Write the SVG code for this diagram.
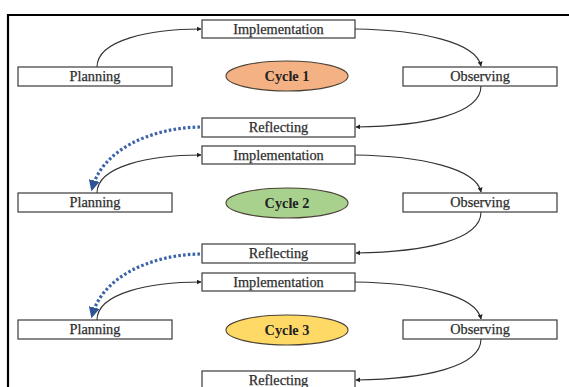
<svg xmlns="http://www.w3.org/2000/svg" width="569" height="387" viewBox="0 0 569 387">
<style>
.box{fill:#fff;stroke:#3a3a3a;stroke-width:1.2}
.lbl{font-family:"Liberation Serif","Times New Roman",serif;font-size:14.3px;fill:#2e2e2e;stroke:#2e2e2e;stroke-width:0.25;text-anchor:middle}
.cyc{font-family:"Liberation Serif","Times New Roman",serif;font-size:14.3px;font-weight:bold;fill:#222;text-anchor:middle}
.ell{stroke:#4a4034;stroke-width:1.1}
.arc{fill:none;stroke:#333;stroke-width:1.1}
.dot{fill:none;stroke:#3c64a8;stroke-width:3.2;stroke-dasharray:2.6 2.2}
</style>
<defs>
<marker id="ah" viewBox="0 0 8 8" refX="7" refY="4" markerWidth="5" markerHeight="5" orient="auto" markerUnits="userSpaceOnUse"><path d="M0,0 L8,4 L0,8 z" fill="#222"/></marker>
<marker id="bh" viewBox="0 0 10 10" refX="8" refY="5" markerWidth="11" markerHeight="11" orient="auto" markerUnits="userSpaceOnUse"><path d="M0,0 L10,5 L0,10 z" fill="#2f5597"/></marker>
</defs>
<g id="frame">
<line x1="7" y1="15" x2="569" y2="15" stroke="#000" stroke-width="2.2"/>
<line x1="8" y1="14" x2="8" y2="387" stroke="#000" stroke-width="2.2"/>
</g>
<g id="connectors">
<path class="arc" d="M97,67 C97,40 150,29 201,29" marker-end="url(#ah)"/>
<path class="arc" d="M355,29 C420,30 476,42 481,66" marker-end="url(#ah)"/>
<path class="arc" d="M481,86 C481,114 425,126 356,127" marker-end="url(#ah)"/>
<path class="dot" d="M200,127 C150,128 102,150 92,189" marker-end="url(#bh)"/>
<path class="arc" d="M97,193 C97,166 150,155 201,155" marker-end="url(#ah)"/>
<path class="arc" d="M355,155 C420,156 476,168 481,192" marker-end="url(#ah)"/>
<path class="arc" d="M481,212 C481,240 425,252 356,253" marker-end="url(#ah)"/>
<path class="dot" d="M200,254 C150,255 102,277 92,316" marker-end="url(#bh)"/>
<path class="arc" d="M97,320 C97,293 150,282 201,282" marker-end="url(#ah)"/>
<path class="arc" d="M355,282 C420,283 476,295 481,319" marker-end="url(#ah)"/>
<path class="arc" d="M481,339 C481,367 425,379 356,380" marker-end="url(#ah)"/>
</g>
<g id="c1-implementation"><rect class="box" x="202" y="20" width="153" height="18"/><text class="lbl" x="278.5" y="33.8">Implementation</text></g>
<g id="c1-planning"><rect class="box" x="18" y="67" width="154" height="19"/><text class="lbl" x="95" y="81.3">Planning</text></g>
<g id="c1-cycle"><ellipse class="ell" cx="287" cy="76" rx="61" ry="15" fill="#f4b183"/><text class="cyc" x="287" y="81">Cycle 1</text></g>
<g id="c1-observing"><rect class="box" x="403" y="67" width="154" height="19"/><text class="lbl" x="480" y="81.3">Observing</text></g>
<g id="c1-reflecting"><rect class="box" x="202" y="118" width="153" height="19"/><text class="lbl" x="278.5" y="132.3">Reflecting</text></g>
<g id="c2-implementation"><rect class="box" x="202" y="146" width="153" height="18"/><text class="lbl" x="278.5" y="159.8">Implementation</text></g>
<g id="c2-planning"><rect class="box" x="18" y="193" width="154" height="19"/><text class="lbl" x="95" y="207.3">Planning</text></g>
<g id="c2-cycle"><ellipse class="ell" cx="287" cy="203" rx="61" ry="15" fill="#a9d18e"/><text class="cyc" x="287" y="208">Cycle 2</text></g>
<g id="c2-observing"><rect class="box" x="403" y="193" width="154" height="19"/><text class="lbl" x="480" y="207.3">Observing</text></g>
<g id="c2-reflecting"><rect class="box" x="202" y="244" width="153" height="19"/><text class="lbl" x="278.5" y="258.3">Reflecting</text></g>
<g id="c3-implementation"><rect class="box" x="202" y="273" width="153" height="18"/><text class="lbl" x="278.5" y="286.8">Implementation</text></g>
<g id="c3-planning"><rect class="box" x="18" y="320" width="154" height="19"/><text class="lbl" x="95" y="334.3">Planning</text></g>
<g id="c3-cycle"><ellipse class="ell" cx="287" cy="330" rx="61" ry="15" fill="#ffd966"/><text class="cyc" x="287" y="335">Cycle 3</text></g>
<g id="c3-observing"><rect class="box" x="403" y="320" width="154" height="19"/><text class="lbl" x="480" y="334.3">Observing</text></g>
<g id="c3-reflecting"><rect class="box" x="202" y="371" width="153" height="19"/><text class="lbl" x="278.5" y="385.3">Reflecting</text></g>
</svg>
